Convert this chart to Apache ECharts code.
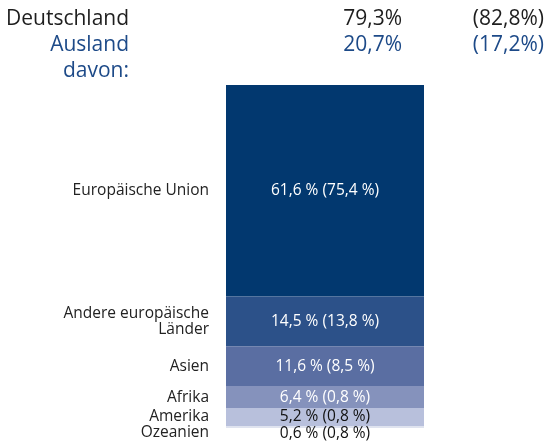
<!DOCTYPE html>
<html>
<head>
<meta charset="utf-8">
<script src="https://cdn.jsdelivr.net/npm/echarts@6/dist/echarts.min.js"></script>
<style>
  html, body { margin: 0; padding: 0; background: #fff; }
  #chart { width: 548px; height: 441px; }
</style>
</head>
<body>
<div id="chart"></div>
<script>
// Anteile Deutschland / Ausland (aktuelles Jahr, Vorjahr)
const headRows = ["Deutschland", "Ausland", "davon:"];
const headNow = ["79,3%", "20,7%", ""];
const headPrev = ["(82,8%)", "(17,2%)", ""];

// Aufteilung Ausland
const regions = ["Europäische Union", "Andere europäische\nLänder", "Asien", "Afrika", "Amerika", "Ozeanien"];
const shareNow = [61.6, 14.5, 11.6, 6.4, 5.2, 0.6];
const sharePrev = [75.4, 13.8, 8.5, 0.8, 0.8, 0.8];

const colors = ["#02386f", "#2c5189", "#5a6ea2", "#8592bc", "#b8c0dc", "#dfe3ef"];
const textColors = ["#fff", "#fff", "#fff", "#fff", "#111", "#111"];
const font = "'Open Sans', 'Noto Sans', sans-serif";

function fmt(v) {
  return v.toFixed(1).replace(".", ",");
}

const total = shareNow.reduce((a, b) => a + b, 0);

let series = [];
regions.forEach((name, i) => {
  let last = i === regions.length - 1;
  // farbiger Abschnitt mit Werten
  series.push({
    type: "bar",
    stack: "a",
    barWidth: "100%",
    data: [shareNow[i]],
    itemStyle: { color: colors[i] },
    label: {
      show: true,
      position: last ? "bottom" : "inside",
      distance: 0,
      offset: last ? [0, -2] : [0, 0],
      color: textColors[i],
      fontFamily: font,
      fontSize: 15.5,
      formatter: fmt(shareNow[i]) + " % (" + fmt(sharePrev[i]) + " %)"
    },
    silent: true
  });
  // unsichtbarer Abschnitt nur für die Beschriftung links
  series.push({
    type: "bar",
    stack: "b",
    barWidth: "100%",
    barGap: "-100%",
    data: [shareNow[i]],
    itemStyle: { color: "transparent" },
    label: {
      show: true,
      position: "left",
      distance: 17,
      offset: last ? [0, 6] : [0, 0],
      align: "right",
      color: "#222",
      fontFamily: font,
      fontSize: 15.5,
      lineHeight: 16,
      formatter: name
    },
    silent: true
  });
});

let titles = [];
const headColors = ["#1e1e1e", "#1d4a88", "#1d4a88"];
headRows.forEach((t, i) => {
  let top = 4 + i * 26;
  let style = { fontFamily: font, fontSize: 21, fontWeight: "normal", color: headColors[i] };
  if (i === 0) {
    titles.push({ text: t, left: 1, top: top, textStyle: style });
  } else {
    titles.push({ text: t, right: 414, top: top, textStyle: style });
  }
  if (headNow[i]) titles.push({ text: headNow[i], right: 141, top: top, textStyle: style });
  if (headPrev[i]) titles.push({ text: headPrev[i], right: -1, top: top, textStyle: style });
});

let chart = echarts.init(document.getElementById("chart"));
chart.setOption({
  animation: false,
  title: titles,
  grid: { left: 226, top: 85, width: 198, height: 343 },
  xAxis: { type: "category", data: [""], show: false },
  yAxis: { type: "value", min: 0, max: total, inverse: true, show: false },
  series: series
});
</script>
</body>
</html>
